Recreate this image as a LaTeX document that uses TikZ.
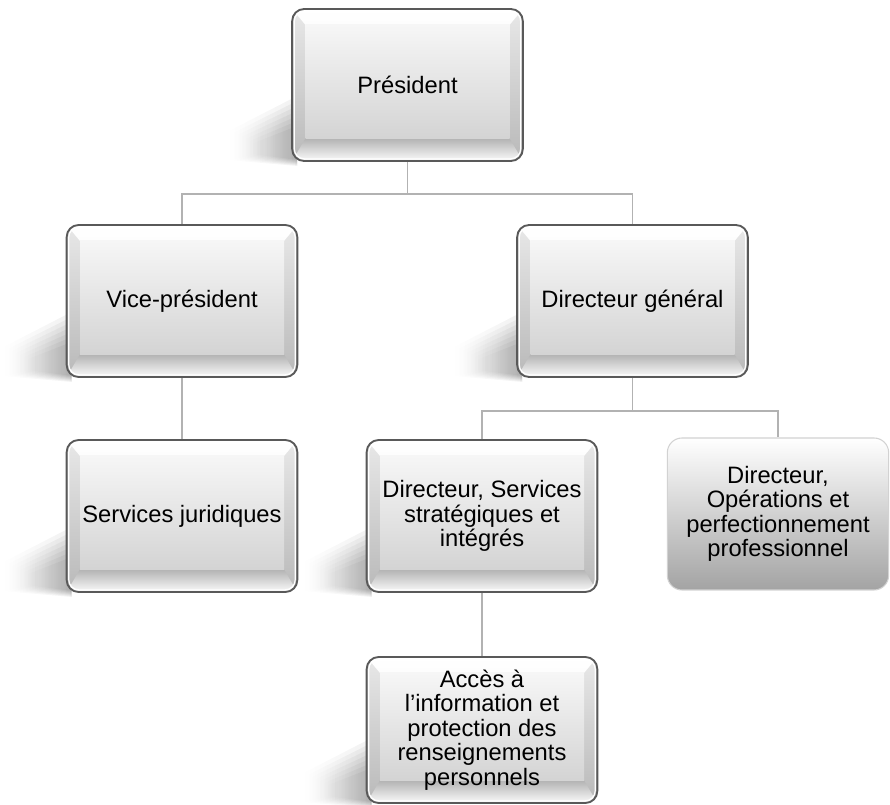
\documentclass[tikz,border=0pt]{standalone}
\usepackage{fontspec}
\setmainfont{Liberation Sans}
\usetikzlibrary{backgrounds,fadings}
\tikzfading[name=shadowfade,left color=transparent!100,right color=transparent!0]

\begin{document}
\begin{tikzpicture}[x=0.75pt,y=-0.75pt,
orgblock/.style={rectangle,rounded corners=9pt,draw=black!65,line width=1.4pt,
  minimum width=173pt,minimum height=114pt,inner sep=0pt,align=center,
  font=\fontsize{17.8}{18.4}\selectfont,top color=gray!18,bottom color=gray!55,
  path picture={
    \shade[sharp corners,top color=white,bottom color=gray!16]
      (path picture bounding box.north west) -- (path picture bounding box.north east)
      -- ([shift={(-10pt,-12pt)}]path picture bounding box.north east)
      -- ([shift={(10pt,-12pt)}]path picture bounding box.north west) -- cycle;
    \shade[sharp corners,top color=gray!60,bottom color=gray!3]
      ([shift={(10pt,17pt)}]path picture bounding box.south west)
      -- ([shift={(-10pt,17pt)}]path picture bounding box.south east)
      -- (path picture bounding box.south east) -- (path picture bounding box.south west) -- cycle;
    \shade[sharp corners,top color=gray!7,bottom color=gray!34]
      ([shift={(10pt,-12pt)}]path picture bounding box.north west)
      rectangle ([shift={(-10pt,17pt)}]path picture bounding box.south east);
    \draw[white,line width=0.9pt,rounded corners=7.5pt]
      ([shift={(1.6pt,-1.6pt)}]path picture bounding box.north west)
      rectangle ([shift={(-1.6pt,1.6pt)}]path picture bounding box.south east);
  }},
flatblock/.style={rectangle,rounded corners=11pt,draw=gray!35,line width=0.8pt,
  minimum width=166pt,minimum height=114pt,inner sep=0pt,align=center,
  font=\fontsize{17.8}{18.4}\selectfont,top color=white,bottom color=gray!72},
link/.style={draw=gray!60,line width=1.4pt}]
\useasboundingbox (0,0) rectangle (890,805);

\draw (407.5,85) node[orgblock] (pres) {Président};
\draw (182,301) node[orgblock] (vp) {Vice-président};
\draw (632.5,301) node[orgblock] (dg) {Directeur général};
\draw (182,516) node[orgblock] (sj) {Services juridiques};
\draw (482,516) node[orgblock] (dss) {Directeur, Services\\stratégiques et\\intégrés};
\draw (778,514) node[flatblock] (ops) {Directeur,\\Opérations et\\perfectionnement\\professionnel};
\draw (482,730) node[orgblock,minimum height=109.5pt] (acc) {Accès à\\l’information et\\protection des\\renseignements\\personnels};

\begin{scope}[on background layer]
% soft shadows, lower left of each block
\foreach \b in {pres,vp,dg,sj,dss,acc}{
  \foreach \k in {0,...,6}{
    \fill[black,opacity=0.055,path fading=shadowfade]
      ([shift={(6,-66+5*\k)}]\b.south west) -- ([shift={(-64+4*\k,-30+2*\k)}]\b.south west)
      -- ([shift={(-64+4*\k,-2-\k)}]\b.south west) -- ([shift={(6,4-\k)}]\b.south west) -- cycle;
  }
}
\draw[link] (pres.south) -- ++(0,32) -| (vp.north);
\draw[link] (pres.south) -- ++(0,32) -| (dg.north);
\draw[link] (vp.south) -- (sj.north);
\draw[link] (dg.south) -- ++(0,33) -| (dss.north);
\draw[link] (dg.south) -- ++(0,33) -| (ops.north);
\draw[link] (dss.south) -- (acc.north);
\end{scope}
\end{tikzpicture}
\end{document}
